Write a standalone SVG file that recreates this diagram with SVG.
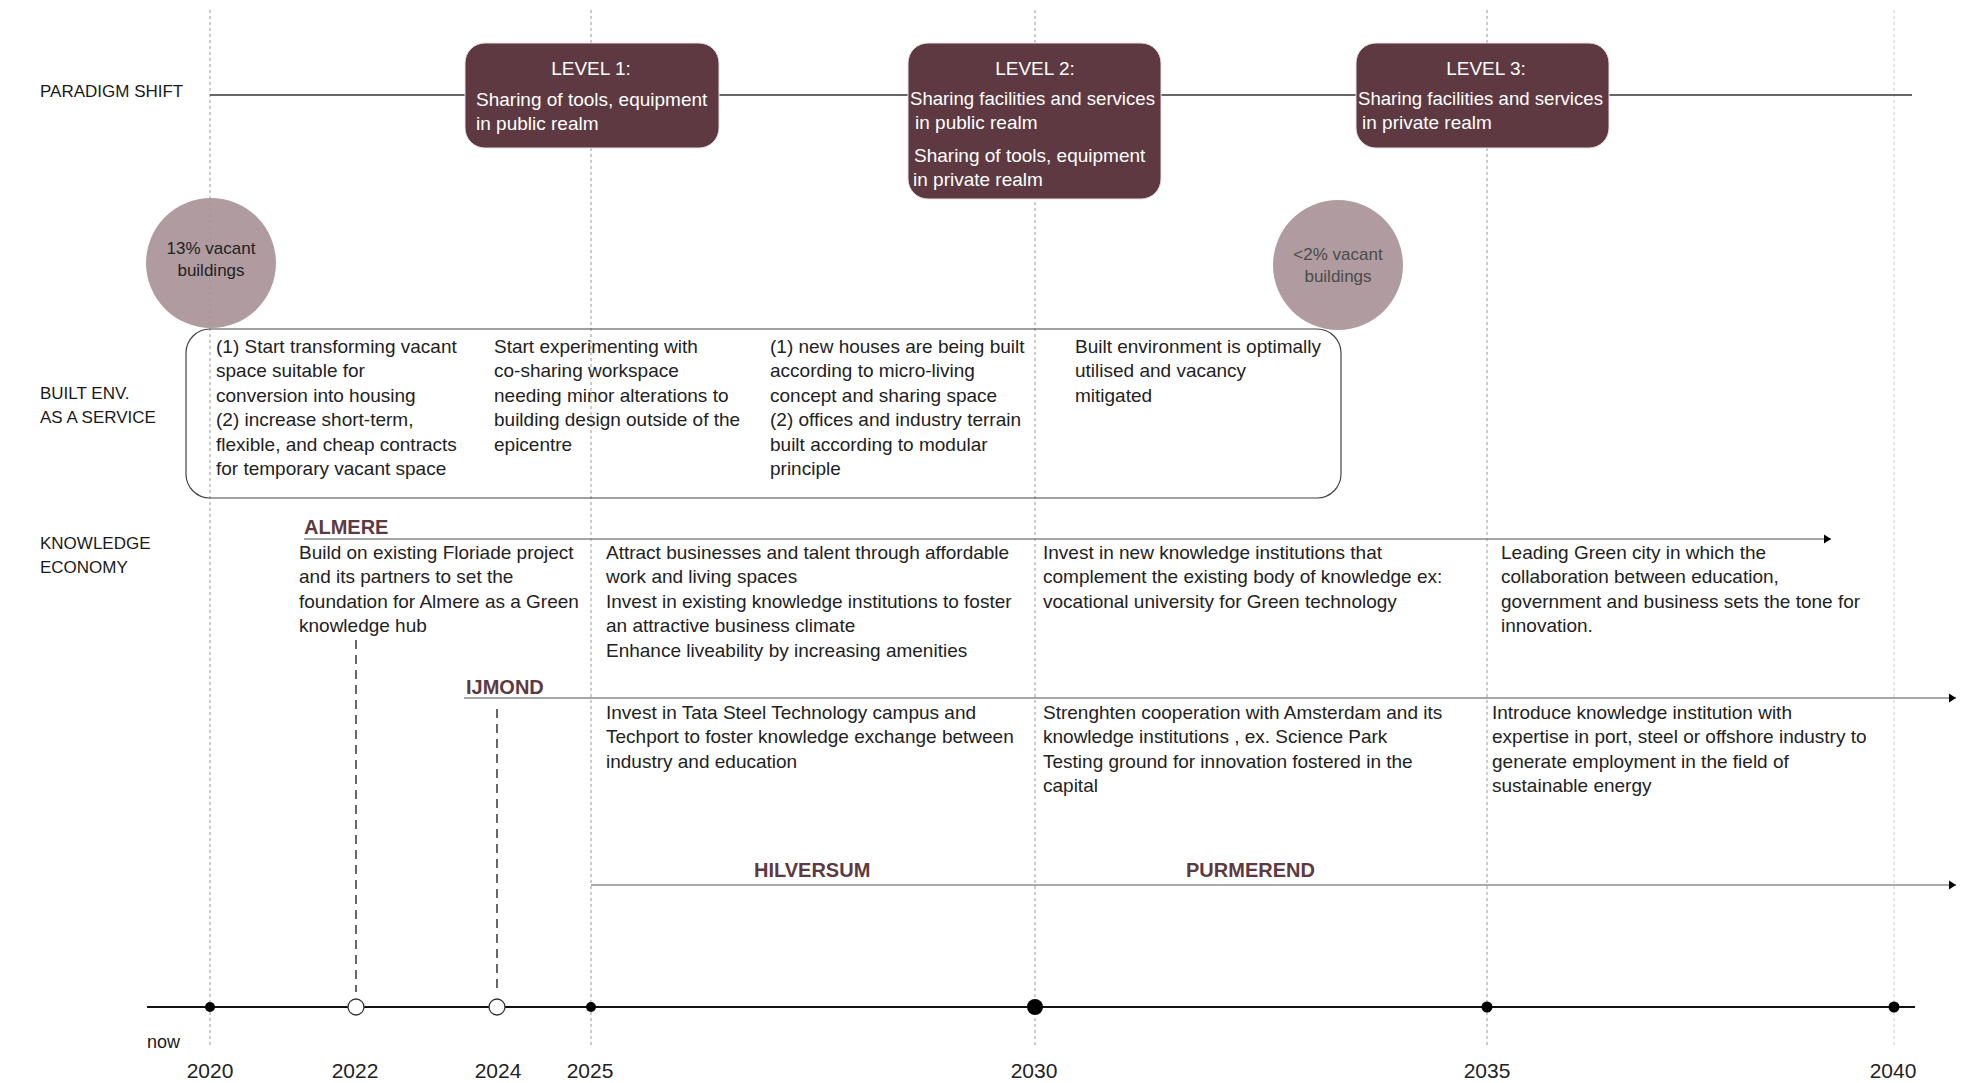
<svg xmlns="http://www.w3.org/2000/svg" width="1981" height="1083" viewBox="0 0 1981 1083">
<style>
  text { font-family: "Liberation Sans", Arial, sans-serif; fill: #222; }
  .body { font-size: 19px; }
  .lbl { font-size: 17px; fill: #1a1a1a; }
  .yr { font-size: 21px; fill: #222; text-anchor: middle; }
  .lvl { font-size: 19px; fill: #ffffff; }
  .lvs { font-size: 18.6px; }
  .city { font-size: 20px; font-weight: bold; fill: #5e3941; }
  .circ { font-size: 17px; text-anchor: middle; }
  .box { fill: #5e3941; stroke: #e8e0e2; stroke-width: 1; }
  .vac { fill: #b09ca0; }
  .grid { stroke: #999; stroke-width: 1; stroke-dasharray: 3 3; fill: none; }
  .dash { stroke: #444; stroke-width: 1.6; stroke-dasharray: 9 6; fill: none; }
  .dot { fill: #000; }
  .open { fill: #fff; stroke: #333; stroke-width: 1.3; }
</style>
<defs>
  <marker id="arr" markerUnits="userSpaceOnUse" markerWidth="8" markerHeight="10" refX="7" refY="5" orient="auto">
    <path d="M0,0.5 L7,5 L0,9.5 z" fill="#000"/>
  </marker>
</defs>
<rect width="1981" height="1083" fill="#ffffff"/>

<g id="row-labels">
  <text class="lbl" x="40" y="97">PARADIGM SHIFT</text>
  <text class="lbl" x="40" y="399">BUILT ENV.</text>
  <text class="lbl" x="40" y="423">AS A SERVICE</text>
  <text class="lbl" x="40" y="549">KNOWLEDGE</text>
  <text class="lbl" x="40" y="573">ECONOMY</text>
</g>

<g id="vacancy-13">
  <circle class="vac" cx="211" cy="263" r="65"/>
</g>
<g id="vacancy-2">
  <circle class="vac" cx="1338" cy="265" r="65"/>
</g>

<g id="connectors">
  <line class="grid" x1="210" y1="10" x2="210" y2="1048"/>
  <line class="grid" x1="591" y1="10" x2="591" y2="1048"/>
  <line class="grid" x1="1035" y1="10" x2="1035" y2="1048"/>
  <line class="grid" x1="1487" y1="10" x2="1487" y2="1048"/>
  <line class="grid" x1="1894" y1="10" x2="1894" y2="1048" style="stroke:#ccc"/>
  <line x1="210" y1="95" x2="1912" y2="95" stroke="#333" stroke-width="1.5"/>
  <line x1="304" y1="539" x2="1831" y2="539" stroke="#888" stroke-width="1.5" marker-end="url(#arr)"/>
  <line x1="464" y1="698" x2="1956" y2="698" stroke="#888" stroke-width="1.5" marker-end="url(#arr)"/>
  <line x1="591" y1="885" x2="1956" y2="885" stroke="#aaa" stroke-width="2" marker-end="url(#arr)"/>
  <line class="dash" x1="356" y1="640" x2="356" y2="992"/>
  <line class="dash" x1="497" y1="709" x2="497" y2="992"/>
  <line x1="147" y1="1007" x2="1915" y2="1007" stroke="#111" stroke-width="2"/>
</g>

<g id="circle-texts">
  <text class="circ" x="211" y="254">13% vacant</text>
  <text class="circ" x="211" y="276">buildings</text>
  <text class="circ" x="1338" y="260" style="fill:#4a4a4a">&lt;2% vacant</text>
  <text class="circ" x="1338" y="282" style="fill:#4a4a4a">buildings</text>
</g>

<g id="level-1">
  <rect class="box" x="465" y="43" width="254" height="105" rx="20"/>
  <text class="lvl" x="591" y="75" text-anchor="middle">LEVEL 1:</text>
  <text class="lvl" x="476" y="106">Sharing of tools, equipment</text>
  <text class="lvl" x="476" y="130">in public realm</text>
</g>
<g id="level-2">
  <rect class="box" x="908" y="43" width="253" height="156" rx="20"/>
  <text class="lvl" x="1035" y="75" text-anchor="middle">LEVEL 2:</text>
  <text class="lvl lvs" x="910" y="105">Sharing facilities and services</text>
  <text class="lvl" x="915" y="129">in public realm</text>
  <text class="lvl" x="914" y="162">Sharing of tools, equipment</text>
  <text class="lvl" x="913" y="186">in private realm</text>
</g>
<g id="level-3">
  <rect class="box" x="1356" y="43" width="253" height="105" rx="20"/>
  <text class="lvl" x="1486" y="75" text-anchor="middle">LEVEL 3:</text>
  <text class="lvl lvs" x="1358" y="105">Sharing facilities and services</text>
  <text class="lvl" x="1362" y="129">in private realm</text>
</g>

<g id="built-env">
  <rect x="186" y="329" width="1155" height="169" rx="24" fill="none" stroke="#444" stroke-width="1.2"/>
  <text class="body" x="216" y="353">
    <tspan x="216">(1) Start transforming vacant</tspan>
    <tspan x="216" dy="24.4">space suitable for</tspan>
    <tspan x="216" dy="24.4">conversion into housing</tspan>
    <tspan x="216" dy="24.4">(2) increase short-term,</tspan>
    <tspan x="216" dy="24.4">flexible, and cheap contracts</tspan>
    <tspan x="216" dy="24.4">for temporary vacant space</tspan>
  </text>
  <text class="body" x="494" y="353">
    <tspan x="494">Start experimenting with</tspan>
    <tspan x="494" dy="24.4">co-sharing workspace</tspan>
    <tspan x="494" dy="24.4">needing minor alterations to</tspan>
    <tspan x="494" dy="24.4">building design outside of the</tspan>
    <tspan x="494" dy="24.4">epicentre</tspan>
  </text>
  <text class="body" x="770" y="353">
    <tspan x="770">(1) new houses are being built</tspan>
    <tspan x="770" dy="24.4">according to micro-living</tspan>
    <tspan x="770" dy="24.4">concept and sharing space</tspan>
    <tspan x="770" dy="24.4">(2) offices and industry terrain</tspan>
    <tspan x="770" dy="24.4">built according to modular</tspan>
    <tspan x="770" dy="24.4">principle</tspan>
  </text>
  <text class="body" x="1075" y="353">
    <tspan x="1075">Built environment is optimally</tspan>
    <tspan x="1075" dy="24.4">utilised and vacancy</tspan>
    <tspan x="1075" dy="24.4">mitigated</tspan>
  </text>
</g>

<g id="almere">
  <text class="city" x="304" y="534">ALMERE</text>
  <text class="body" x="299" y="559">
    <tspan x="299">Build on existing Floriade project</tspan>
    <tspan x="299" dy="24.4">and its partners to set the</tspan>
    <tspan x="299" dy="24.4">foundation for Almere as a Green</tspan>
    <tspan x="299" dy="24.4">knowledge hub</tspan>
  </text>
  <text class="body" x="606" y="559">
    <tspan x="606">Attract businesses and talent through affordable</tspan>
    <tspan x="606" dy="24.4">work and living spaces</tspan>
    <tspan x="606" dy="24.4">Invest in existing knowledge institutions to foster</tspan>
    <tspan x="606" dy="24.4">an attractive business climate</tspan>
    <tspan x="606" dy="24.4">Enhance liveability by increasing amenities</tspan>
  </text>
  <text class="body" x="1043" y="559">
    <tspan x="1043">Invest in new knowledge institutions that</tspan>
    <tspan x="1043" dy="24.4">complement the existing body of knowledge ex:</tspan>
    <tspan x="1043" dy="24.4">vocational university for Green technology</tspan>
  </text>
  <text class="body" x="1501" y="559">
    <tspan x="1501">Leading Green city in which the</tspan>
    <tspan x="1501" dy="24.4">collaboration between education,</tspan>
    <tspan x="1501" dy="24.4">government and business sets the tone for</tspan>
    <tspan x="1501" dy="24.4">innovation.</tspan>
  </text>
</g>

<g id="ijmond">
  <text class="city" x="466" y="694">IJMOND</text>
  <text class="body" x="606" y="719">
    <tspan x="606">Invest in Tata Steel Technology campus and</tspan>
    <tspan x="606" dy="24.4">Techport to foster knowledge exchange between</tspan>
    <tspan x="606" dy="24.4">industry and education</tspan>
  </text>
  <text class="body" x="1043" y="719">
    <tspan x="1043">Strenghten cooperation with Amsterdam and its</tspan>
    <tspan x="1043" dy="24.4">knowledge institutions , ex. Science Park</tspan>
    <tspan x="1043" dy="24.4">Testing ground for innovation fostered in the</tspan>
    <tspan x="1043" dy="24.4">capital</tspan>
  </text>
  <text class="body" x="1492" y="719">
    <tspan x="1492">Introduce knowledge institution with</tspan>
    <tspan x="1492" dy="24.4">expertise in port, steel or offshore industry to</tspan>
    <tspan x="1492" dy="24.4">generate employment in the field of</tspan>
    <tspan x="1492" dy="24.4">sustainable energy</tspan>
  </text>
</g>

<g id="hilversum">
  <text class="city" x="754" y="877">HILVERSUM</text>
</g>
<g id="purmerend">
  <text class="city" x="1186" y="877">PURMEREND</text>
</g>

<g id="timeline-points">
  <circle class="dot" cx="210" cy="1007" r="5"/>
  <circle class="open" cx="356" cy="1007" r="8"/>
  <circle class="open" cx="497" cy="1007" r="8"/>
  <circle class="dot" cx="591" cy="1007" r="5"/>
  <circle class="dot" cx="1035" cy="1007" r="8"/>
  <circle class="dot" cx="1487" cy="1007" r="5.5"/>
  <circle class="dot" cx="1894" cy="1007" r="5.5"/>
</g>

<g id="years">
  <text class="lbl" x="147" y="1048" style="font-size:18px">now</text>
  <text class="yr" x="210" y="1078">2020</text>
  <text class="yr" x="355" y="1078">2022</text>
  <text class="yr" x="498" y="1078">2024</text>
  <text class="yr" x="590" y="1078">2025</text>
  <text class="yr" x="1034" y="1078">2030</text>
  <text class="yr" x="1487" y="1078">2035</text>
  <text class="yr" x="1893" y="1078">2040</text>
</g>
</svg>
